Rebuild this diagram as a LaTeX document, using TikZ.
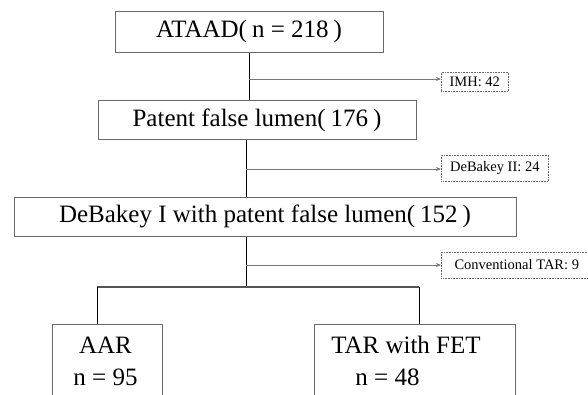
\documentclass[tikz,border=0pt]{standalone}
\usepackage{fontspec}
\setmainfont{Liberation Serif}
\usetikzlibrary{arrows.meta,calc}
\definecolor{boxgray}{HTML}{6A6A6A}
\definecolor{linegray}{HTML}{777777}
\definecolor{busgray}{HTML}{555555}
\definecolor{dotgray}{HTML}{666666}
\newcommand{\lpar}{(\kern5pt}
\newcommand{\rpar}{\kern5pt)}
\begin{document}
\begin{tikzpicture}[x=1pt,y=-1pt,
  mainbox/.style={draw=boxgray,line width=1pt,inner sep=0pt,font=\fontsize{25}{30}\selectfont},
  smallbox/.style={draw=dotgray,densely dotted,line width=0.6pt,inner sep=0pt,anchor=west,font=\fontsize{14.5}{17}\selectfont},
  lbl/.style={anchor=base,inner sep=0pt,font=\fontsize{25}{30}\selectfont},
  conn/.style={draw=black,line width=1pt},
  branch/.style={draw=linegray,line width=0.9pt,-{Stealth[length=5pt,width=4pt]}},
  bus/.style={draw=busgray,line width=2pt}]
\useasboundingbox (0,0) rectangle (588,394);
\fill[white] (0,0) rectangle (588,394);

% main boxes
\node[mainbox,minimum width=268pt,minimum height=41pt] (ataad) at (249,31.5) {ATAAD\lpar n = 218\rpar};
\node[mainbox,minimum width=318pt,minimum height=39pt] (patent) at (257,120) {Patent false lumen\lpar 176\rpar};
\node[mainbox,minimum width=502pt,minimum height=39pt] (deb1) at (265,216.5) {DeBakey I with patent false lumen\lpar 152\rpar};

% excluded boxes
\node[smallbox,minimum width=67pt,minimum height=19pt] (imh) at (441,81.5) {IMH: 42};
\node[smallbox,minimum width=107pt,minimum height=26pt] (deb2) at (441,168) {DeBakey II: 24};
\node[smallbox,minimum width=151pt,minimum height=26pt] (ctar) at (441,265) {Conventional TAR: 9};

% group boxes
\node[mainbox,minimum width=110pt,minimum height=80pt] (aar) at (107,364) {};
\node[mainbox,minimum width=201pt,minimum height=80pt] (tar) at (414.5,364) {};
\node[lbl] (aarT) at (105.5,353) {AAR};
\node[lbl] (aarN) at (105.5,385) {n = 95};
\node[lbl] (tarT) at (406,353) {TAR with FET};
\node[lbl] (tarN) at (387.5,385) {n = 48};

% coordinates
\coordinate (b1) at (249,79);
\coordinate (b2) at (246,169);
\coordinate (b3) at (246,265);
\coordinate (bus) at (246,287);
\coordinate (busL) at (97,287);
\coordinate (busR) at (419,287);

% connectors
\draw[conn] (ataad.south -| b1) -- (b1 |- patent.north);
\draw[branch] (b1) -- (b1 -| imh.west);
\draw[conn] (patent.south -| b2) -- (b2 |- deb1.north);
\draw[branch] (b2) -- (b2 -| deb2.west);
\draw[conn] (deb1.south -| b3) -- (bus);
\draw[branch] (b3) -- (b3 -| ctar.west);
\draw[bus] (busL) -- (busR);
\draw[conn] (busL) -- (busL |- aar.north);
\draw[conn] (busR) -- (busR |- tar.north);
\end{tikzpicture}
\end{document}
